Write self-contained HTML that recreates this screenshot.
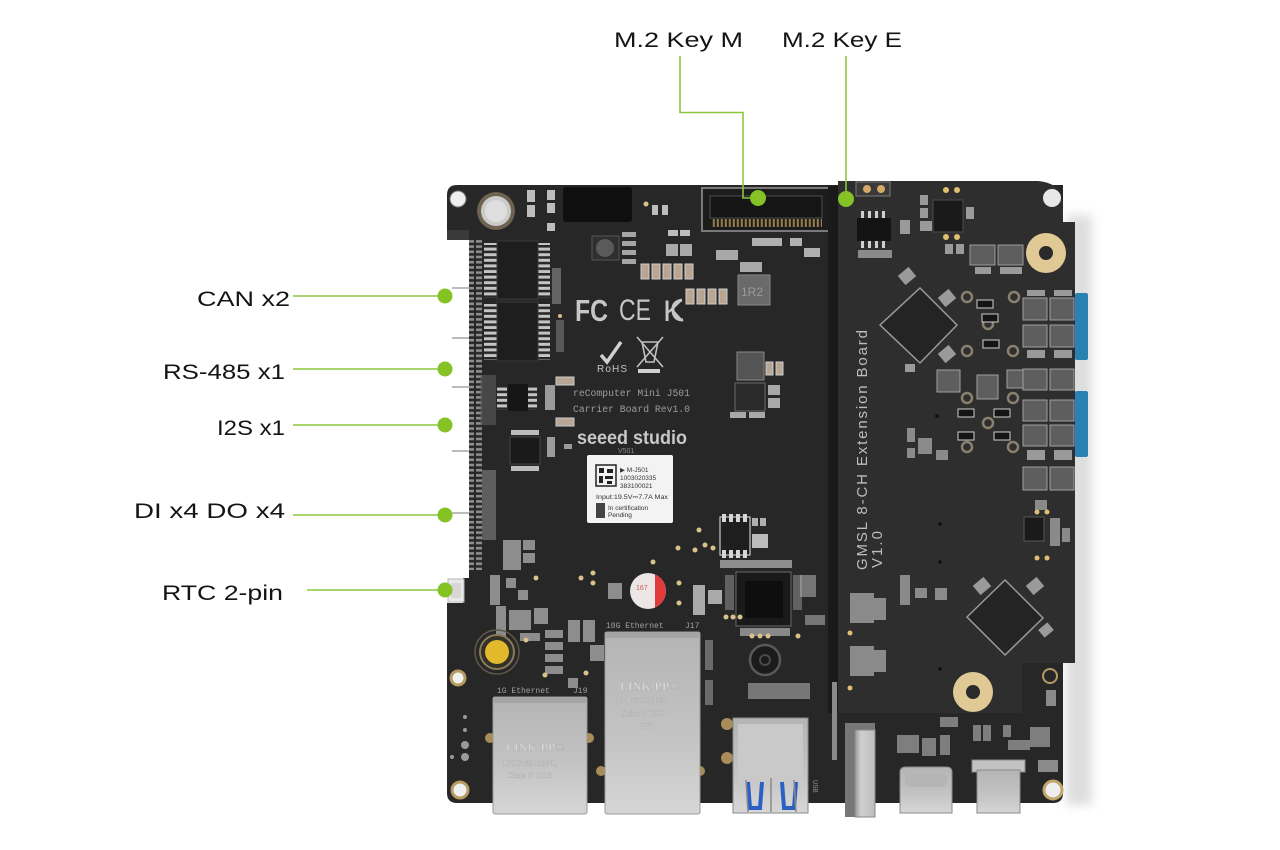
<!DOCTYPE html>
<html><head><meta charset="utf-8">
<style>
html,body{margin:0;padding:0;background:#fff;width:1280px;height:850px;overflow:hidden;}
svg{display:block;}
.lbl{font-family:"Liberation Sans",sans-serif;font-size:21.5px;fill:#141414;}
.sm{font-family:"Liberation Mono",monospace;fill:#9c9c9c;}
</style></head><body>
<svg width="1280" height="850" viewBox="0 0 1280 850" xmlns="http://www.w3.org/2000/svg">
<defs>
 <pattern id="hdr" width="14" height="5.2" patternUnits="userSpaceOnUse"><rect x="0" y="0.9" width="12" height="2.6" fill="#8e8e8e"/></pattern>
 <pattern id="pins" width="12" height="5.6" patternUnits="userSpaceOnUse"><rect x="0" y="1.2" width="12" height="3" fill="#c4c4c4"/></pattern>
 <pattern id="vpins" width="4" height="10" patternUnits="userSpaceOnUse"><rect x="0.8" y="0" width="2" height="10" fill="#c9a860"/></pattern>
 <linearGradient id="silver" x1="0" y1="0" x2="0" y2="1"><stop offset="0" stop-color="#b4b4b4"/><stop offset="0.6" stop-color="#c4c4c4"/><stop offset="1" stop-color="#d6d6d6"/></linearGradient>
 <linearGradient id="silverh" x1="0" y1="0" x2="1" y2="0"><stop offset="0" stop-color="#9a9a9a"/><stop offset="0.3" stop-color="#cfcfcf"/><stop offset="1" stop-color="#bdbdbd"/></linearGradient>
 <clipPath id="capclip"><circle cx="648" cy="591" r="18"/></clipPath>
 <filter id="blur" x="-50%" y="-10%" width="200%" height="120%"><feGaussianBlur stdDeviation="5"/></filter>
</defs>

<!-- soft shadow right of board -->
<rect x="1066" y="215" width="26" height="590" fill="#dedede" filter="url(#blur)"/>

<!-- main board -->
<path d="M457,185 H1063 V793 Q1063,803 1053,803 H457 Q447,803 447,793 V603 H463 V578 H469 V240 H447 V195 Q447,185 457,185 Z" fill="#272727"/>
<!-- left header strip -->
<rect x="469" y="240" width="13" height="330" fill="url(#hdr)"/>
<rect x="447" y="230" width="22" height="10" fill="#3a3a3a"/>
<g stroke="#7a7a7a" stroke-width="1">
 <line x1="452" y1="288" x2="469" y2="288"/>
 <line x1="452" y1="338" x2="469" y2="338"/>
 <line x1="452" y1="387" x2="469" y2="387"/>
 <line x1="452" y1="451" x2="469" y2="451"/>
 <line x1="452" y1="513" x2="469" y2="513"/>
</g>
<!-- RTC connector -->
<rect x="448" y="579" width="16" height="23" fill="#e9e9e9" stroke="#b8b8b8"/>
<rect x="451" y="583" width="10" height="15" fill="#d9d6d6"/>

<!-- top-left holes -->
<circle cx="458" cy="199" r="8" fill="#efefef" stroke="#7a7a7a"/>
<circle cx="496" cy="211" r="19" fill="#6e6350"/>
<circle cx="496" cy="211" r="15" fill="#cbcbcb"/>
<circle cx="496" cy="211" r="11" fill="#dedede"/>
<!-- small pads top -->
<g fill="#bdbdbd">
 <rect x="527" y="190" width="8" height="12"/><rect x="527" y="205" width="8" height="12"/>
 <rect x="547" y="190" width="8" height="10"/><rect x="547" y="203" width="8" height="10"/><rect x="547" y="223" width="8" height="8"/>
 <rect x="652" y="205" width="6" height="10"/><rect x="662" y="205" width="6" height="10"/>
 <rect x="668" y="230" width="10" height="6"/><rect x="680" y="230" width="10" height="6"/>
</g>
<rect x="563" y="187" width="69" height="35" rx="3" fill="#0f0f0f"/>
<circle cx="646" cy="204" r="2.5" fill="#d9c38a"/>
<rect x="592" y="236" width="27" height="24" fill="#2f2f2f" stroke="#555"/>
<circle cx="605" cy="248" r="9" fill="#5a5a5a"/>
<g fill="#a5a5a5"><rect x="622" y="232" width="14" height="5"/><rect x="622" y="241" width="14" height="5"/><rect x="622" y="250" width="14" height="5"/><rect x="622" y="259" width="14" height="5"/></g>

<!-- M.2 Key M connector -->
<rect x="702" y="188" width="127" height="43" fill="#1c1c1c" stroke="#7a7a7a" stroke-width="2"/>
<rect x="710" y="196" width="112" height="22" fill="#151515" stroke="#4e4e4e"/>
<rect x="712" y="219" width="110" height="8" fill="url(#vpins)" opacity="0.7"/>
<g fill="#b0b0b0">
 <rect x="752" y="238" width="30" height="8"/><rect x="790" y="238" width="12" height="8"/>
 <rect x="804" y="248" width="16" height="9"/>
</g>
<!-- resistor rows -->
<g fill="#b9a592" stroke="#cfcfcf">
 <rect x="641" y="264" width="8" height="15"/><rect x="652" y="264" width="8" height="15"/><rect x="663" y="264" width="8" height="15"/><rect x="674" y="264" width="8" height="15"/><rect x="685" y="264" width="8" height="15"/>
 <rect x="686" y="289" width="8" height="15"/><rect x="697" y="289" width="8" height="15"/><rect x="708" y="289" width="8" height="15"/><rect x="719" y="289" width="8" height="15"/>
</g>
<g fill="#a8a8a8"><rect x="666" y="244" width="12" height="12"/><rect x="680" y="244" width="12" height="12"/><rect x="716" y="250" width="22" height="10"/><rect x="740" y="262" width="22" height="10"/></g>
<rect x="738" y="275" width="32" height="30" fill="#6a6a6a" stroke="#8a8a8a"/>
<text x="741" y="296" font-family="Liberation Sans,sans-serif" font-size="12" fill="#9a9a9a">1R2</text>

<!-- left ICs -->
<rect x="484" y="243" width="13" height="55" fill="url(#pins)"/>
<rect x="538" y="243" width="12" height="55" fill="url(#pins)"/>
<rect x="497" y="241" width="41" height="58" fill="#1e1e1e" stroke="#3a3a3a"/>
<rect x="484" y="304" width="13" height="56" fill="url(#pins)"/>
<rect x="538" y="304" width="12" height="56" fill="url(#pins)"/>
<rect x="497" y="302" width="41" height="59" fill="#1e1e1e" stroke="#3a3a3a"/>
<rect x="552" y="268" width="9" height="36" fill="#8c8c8c" opacity="0.6"/>
<rect x="556" y="320" width="8" height="32" fill="#7c7c7c" opacity="0.6"/>
<circle cx="560" cy="316" r="2" fill="#d8c080"/>
<rect x="497" y="386" width="10" height="24" fill="url(#pins)"/>
<rect x="528" y="386" width="9" height="24" fill="url(#pins)"/>
<rect x="508" y="384" width="20" height="27" fill="#161616"/>
<rect x="480" y="375" width="16" height="50" fill="#5d5d5d" opacity="0.6"/>
<rect x="510" y="437" width="30" height="27" fill="#1a1a1a" stroke="#444"/>
<rect x="511" y="430" width="28" height="5" fill="#bdbdbd"/><rect x="511" y="466" width="28" height="5" fill="#bdbdbd"/>
<g fill="#b7a595" stroke="#cccccc"><rect x="556" y="377" width="18" height="8"/><rect x="556" y="418" width="18" height="8"/></g>
<g fill="#9a9a9a"><rect x="545" y="385" width="10" height="25"/><rect x="547" y="437" width="8" height="20"/><rect x="564" y="444" width="8" height="5"/></g>
<!-- lower-left components -->
<g fill="#8d8d8d">
 <rect x="482" y="470" width="14" height="70" opacity="0.55"/>
 <rect x="503" y="540" width="18" height="30"/><rect x="523" y="540" width="12" height="10"/><rect x="523" y="553" width="12" height="10"/>
 <rect x="490" y="575" width="10" height="30"/><rect x="506" y="578" width="10" height="10"/><rect x="518" y="590" width="10" height="10"/>
 <rect x="496" y="606" width="10" height="30"/><rect x="509" y="610" width="22" height="20"/><rect x="534" y="608" width="14" height="16"/>
 <rect x="545" y="630" width="18" height="8"/><rect x="545" y="642" width="18" height="8"/><rect x="545" y="654" width="18" height="8"/><rect x="545" y="666" width="18" height="8"/>
 <rect x="520" y="633" width="20" height="8"/>
 <rect x="568" y="620" width="12" height="22"/><rect x="583" y="620" width="12" height="22"/>
 <rect x="590" y="645" width="14" height="16"/><rect x="568" y="678" width="10" height="10"/>
</g>
<g fill="#d9c38a"><circle cx="536" cy="578" r="2.5"/><circle cx="526" cy="640" r="2.5"/><circle cx="545" cy="675" r="2.5"/><circle cx="586" cy="673" r="2.5"/><circle cx="581" cy="578" r="2.5"/><circle cx="593" cy="583" r="2.5"/><circle cx="593" cy="573" r="2.5"/><circle cx="653" cy="562" r="2.5"/><circle cx="679" cy="583" r="2.5"/><circle cx="679" cy="603" r="2.5"/><circle cx="678" cy="548" r="2.5"/><circle cx="695" cy="550" r="2.5"/><circle cx="705" cy="545" r="2.5"/><circle cx="699" cy="530" r="2.5"/><circle cx="713" cy="548" r="2.5"/></g>

<!-- yellow button -->
<circle cx="497" cy="652" r="22" fill="none" stroke="#5e5648" stroke-width="1.5"/>
<circle cx="497" cy="652" r="17" fill="#34302a" stroke="#8a7a5a" stroke-width="2"/>
<circle cx="497" cy="652" r="12" fill="#e2b92a"/>
<!-- bottom-left holes -->
<circle cx="458" cy="678" r="7" fill="#f0f0f0" stroke="#b59a62" stroke-width="3"/>
<circle cx="460" cy="790" r="8" fill="#f0f0f0" stroke="#b59a62" stroke-width="3"/>
<g fill="#9a9a9a"><circle cx="465" cy="717" r="2"/><circle cx="465" cy="730" r="2"/><circle cx="465" cy="745" r="4"/><circle cx="465" cy="757" r="4"/><circle cx="452" cy="757" r="2"/></g>

<!-- cert marks -->
<text x="575" y="321" font-family="Liberation Sans,sans-serif" font-size="31" font-weight="bold" fill="#c6c6c6" textLength="33" lengthAdjust="spacingAndGlyphs">FC</text>
<text x="619" y="320" font-family="Liberation Sans,sans-serif" font-size="30" fill="#c6c6c6" textLength="32" lengthAdjust="spacingAndGlyphs">CE</text>
<text x="663" y="321" font-family="Liberation Sans,sans-serif" font-size="30" fill="#c6c6c6" textLength="21" lengthAdjust="spacingAndGlyphs">K</text>
<path d="M682,300 Q672,302 673,311 Q674,320 683,320" fill="none" stroke="#c6c6c6" stroke-width="3"/>
<path d="M601,355 L607,362 L621,342" fill="none" stroke="#d0d0d0" stroke-width="3.5"/>
<text x="597" y="372" font-family="Liberation Sans,sans-serif" font-size="10" fill="#c6c6c6" textLength="30">RoHS</text>
<g stroke="#c0c0c0" stroke-width="1.6" fill="none"><path d="M642,342 L646,362 L654,362 L658,342 Z"/><line x1="637" y1="337" x2="663" y2="367"/><line x1="663" y1="337" x2="637" y2="367"/></g>
<rect x="638" y="369" width="22" height="4" fill="#d0d0d0"/>
<text x="573" y="396" class="sm" font-size="10" textLength="117" lengthAdjust="spacingAndGlyphs">reComputer Mini J501</text>
<text x="573" y="412" class="sm" font-size="10" textLength="117" lengthAdjust="spacingAndGlyphs">Carrier Board Rev1.0</text>
<text x="577" y="444" font-family="Liberation Sans,sans-serif" font-size="19" font-weight="bold" fill="#c8c8c8" textLength="110" lengthAdjust="spacingAndGlyphs">seeed studio</text>
<text x="618" y="453" font-family="Liberation Sans,sans-serif" font-size="7" fill="#8a8a8a">V501</text>

<!-- sticker -->
<rect x="587" y="455" width="86" height="68" rx="2" fill="#f3f3f3"/>
<rect x="596" y="465" width="20" height="21" fill="#f3f3f3" stroke="#222" stroke-width="1.5"/>
<g fill="#222"><rect x="599" y="468" width="5" height="5"/><rect x="607" y="469" width="6" height="4"/><rect x="599" y="476" width="4" height="7"/><rect x="605" y="476" width="8" height="3"/><rect x="607" y="481" width="5" height="3"/></g>
<g font-family="Liberation Sans,sans-serif" font-size="6.5" fill="#333">
 <text x="620" y="472">▶ M-J501</text><text x="620" y="480">1003020335</text><text x="620" y="488">383100021</text>
 <text x="596" y="499" textLength="72" lengthAdjust="spacingAndGlyphs">Input:19.5V⎓7.7A Max</text>
 <text x="608" y="510">In certification</text><text x="608" y="517">Pending</text>
</g>
<rect x="596" y="503" width="9" height="15" fill="#444"/>

<!-- mid components -->
<rect x="737" y="352" width="27" height="28" fill="#545454" stroke="#888"/>
<g fill="#b8a696" stroke="#cfcfcf"><rect x="766" y="362" width="7" height="13"/><rect x="776" y="362" width="7" height="13"/></g>
<rect x="735" y="383" width="30" height="28" fill="#2a2a2a" stroke="#6a6a6a"/>
<g fill="#a8a8a8"><rect x="768" y="385" width="12" height="10"/><rect x="768" y="398" width="12" height="10"/><rect x="730" y="412" width="16" height="6"/><rect x="749" y="412" width="16" height="6"/></g>
<rect x="720" y="517" width="30" height="38" fill="#1e1e1e" stroke="#c8c8c8" stroke-width="1.2"/>
<g fill="#d6d6d6"><rect x="722" y="514" width="4" height="8"/><rect x="729" y="514" width="4" height="8"/><rect x="736" y="514" width="4" height="8"/><rect x="743" y="514" width="4" height="8"/><rect x="722" y="550" width="4" height="8"/><rect x="729" y="550" width="4" height="8"/><rect x="736" y="550" width="4" height="8"/><rect x="743" y="550" width="4" height="8"/></g>
<rect x="752" y="534" width="16" height="14" fill="#bcbcbc"/>
<g fill="#b0b0b0"><rect x="752" y="518" width="6" height="8"/><rect x="760" y="518" width="6" height="8"/></g>
<rect x="720" y="560" width="72" height="8" fill="#8e8e8e"/>
<rect x="736" y="572" width="55" height="54" fill="#1a1a1a" stroke="#6a6a6a"/>
<rect x="745" y="581" width="38" height="37" fill="#0e0e0e"/>
<rect x="725" y="575" width="9" height="35" fill="#7a7a7a" opacity="0.7"/>
<rect x="793" y="575" width="9" height="35" fill="#7a7a7a" opacity="0.7"/>
<rect x="740" y="628" width="50" height="8" fill="#888"/>
<g fill="#aaa"><rect x="693" y="585" width="12" height="30"/><rect x="708" y="590" width="14" height="14"/><rect x="800" y="575" width="16" height="22" opacity="0.6"/><rect x="805" y="615" width="20" height="10" opacity="0.6"/></g>
<g fill="#d9c38a"><circle cx="726" cy="617" r="2.5"/><circle cx="733" cy="617" r="2.5"/><circle cx="740" cy="617" r="2.5"/><circle cx="752" cy="636" r="2.5"/><circle cx="760" cy="636" r="2.5"/><circle cx="768" cy="636" r="2.5"/><circle cx="798" cy="636" r="2.5"/></g>
<circle cx="765" cy="660" r="15" fill="#1b1b1b" stroke="#595959" stroke-width="2.5"/>
<circle cx="765" cy="660" r="5" fill="none" stroke="#4a4a4a" stroke-width="2"/>
<rect x="748" y="683" width="62" height="16" fill="#8c8c8c" opacity="0.8"/>
<g fill="#6a6a6a"><rect x="705" y="640" width="8" height="30"/><rect x="705" y="680" width="8" height="25"/></g>

<!-- capacitor -->
<rect x="608" y="583" width="14" height="16" fill="#8d8d8d"/>
<circle cx="648" cy="591" r="18" fill="#ece6e6"/>
<rect x="655" y="570" width="20" height="42" fill="#e03a3a" clip-path="url(#capclip)"/>
<text x="636" y="590" font-family="Liberation Sans,sans-serif" font-size="7" fill="#c55">167</text>

<!-- Ethernet labels -->
<text x="497" y="693" font-family="Liberation Mono,monospace" font-size="8" fill="#a0a0a0">1G Ethernet</text>
<text x="573" y="693" font-family="Liberation Mono,monospace" font-size="8" fill="#a0a0a0">J19</text>
<text x="606" y="628" font-family="Liberation Mono,monospace" font-size="8" fill="#a0a0a0">10G Ethernet</text>
<text x="685" y="628" font-family="Liberation Mono,monospace" font-size="8" fill="#a0a0a0">J17</text>
<g fill="#a88c5a"><circle cx="490" cy="738" r="5"/><circle cx="589" cy="738" r="5"/><circle cx="601" cy="771" r="5"/><circle cx="700" cy="771" r="5"/><circle cx="727" cy="724" r="6"/><circle cx="727" cy="758" r="6"/></g>

<!-- 1G Ethernet -->
<rect x="493" y="697" width="94" height="117" rx="2" fill="url(#silver)" stroke="#9a9a9a"/>
<rect x="493" y="697" width="94" height="6" fill="#a5a5a5"/>
<g font-family="Liberation Serif,serif" fill="#d8d8d8" stroke="#aaa" stroke-width="0.3">
 <text x="506" y="751" font-size="12" font-weight="bold">LINK-PP®</text>
 <text x="503" y="766" font-size="8">LPJG16315BNL</text>
 <text x="507" y="778" font-size="8">China  K 2118</text>
</g>
<!-- 10G Ethernet -->
<rect x="605" y="632" width="95" height="182" rx="2" fill="url(#silver)" stroke="#9a9a9a"/>
<rect x="605" y="632" width="95" height="6" fill="#a5a5a5"/>
<g font-family="Liberation Serif,serif" fill="#dadada" stroke="#aaa" stroke-width="0.3">
 <text x="620" y="690" font-size="12" font-weight="bold">LINK-PP®</text>
 <text x="616" y="703" font-size="8">LPJK6002DNL</text>
 <text x="621" y="716" font-size="8">China  K 2302</text>
 <text x="640" y="729" font-size="8">PV2</text>
</g>

<!-- USB-A -->
<rect x="733" y="718" width="75" height="95" fill="url(#silver)" stroke="#8a8a8a"/>
<rect x="738" y="724" width="65" height="60" fill="#c9c9c9"/>
<g fill="none" stroke="#2a5fc4" stroke-width="4"><path d="M748,782 L750,808 L760,808 L762,782"/><path d="M782,782 L784,808 L794,808 L796,782"/></g>
<g stroke="#8a8a8a" stroke-width="1.5"><line x1="746" y1="780" x2="748" y2="812"/><line x1="794" y1="780" x2="796" y2="812"/><line x1="771" y1="778" x2="771" y2="812"/></g>
<text x="813" y="780" font-family="Liberation Mono,monospace" font-size="7" fill="#888" transform="rotate(90 813 780)">USB</text>

<!-- extension board -->
<rect x="828" y="186" width="11" height="527" fill="#1a1a1a"/>
<path d="M838,181 H1038 Q1063,183 1063,206 V222 H1075 V663 H1022 V713 H838 Z" fill="#2e2e2e"/>
<rect x="1075" y="293" width="13" height="67" rx="2" fill="#2a82b2"/>
<rect x="1075" y="391" width="13" height="66" rx="2" fill="#2a82b2"/>
<circle cx="1052" cy="198" r="9" fill="#e8e8e8"/>
<!-- ext top components -->
<rect x="856" y="182" width="34" height="14" fill="#3a3a3a" stroke="#7a7a7a"/>
<circle cx="867" cy="189" r="4" fill="#d4a866"/><circle cx="881" cy="189" r="4" fill="#d4a866"/>
<rect x="857" y="218" width="34" height="23" fill="#141414"/>
<g fill="#cfcfcf"><rect x="861" y="211" width="3" height="7"/><rect x="868" y="211" width="3" height="7"/><rect x="875" y="211" width="3" height="7"/><rect x="882" y="211" width="3" height="7"/><rect x="861" y="241" width="3" height="7"/><rect x="868" y="241" width="3" height="7"/><rect x="875" y="241" width="3" height="7"/><rect x="882" y="241" width="3" height="7"/></g>
<rect x="858" y="250" width="34" height="8" fill="#8a8a8a"/>
<rect x="933" y="200" width="30" height="32" fill="#1a1a1a" stroke="#4a4a4a"/>
<g fill="#e0c070"><circle cx="946" cy="190" r="3"/><circle cx="957" cy="190" r="3"/><circle cx="946" cy="237" r="3"/><circle cx="957" cy="237" r="3"/></g>
<g fill="#9a9a9a"><rect x="920" y="195" width="8" height="10"/><rect x="920" y="208" width="8" height="10"/><rect x="920" y="221" width="12" height="10"/><rect x="900" y="220" width="10" height="14"/><rect x="966" y="207" width="8" height="12"/><rect x="945" y="244" width="8" height="10"/><rect x="956" y="244" width="8" height="10"/></g>
<rect x="970" y="245" width="25" height="20" fill="#5e5e5e" stroke="#9a9a9a"/>
<rect x="998" y="245" width="25" height="20" fill="#5e5e5e" stroke="#9a9a9a"/>
<rect x="975" y="267" width="16" height="7" fill="#9a9a9a"/><rect x="1000" y="267" width="22" height="7" fill="#9a9a9a"/>
<circle cx="1046" cy="253" r="20" fill="#e1c995"/>
<circle cx="1046" cy="253" r="7" fill="#2a2a2a"/>
<!-- diamonds -->
<polygon points="880,325 920,288 957,325 920,363" fill="#242424" stroke="#9a9a9a" stroke-width="1.5"/>
<polygon points="967,617 1005,580 1043,618 1005,655" fill="#242424" stroke="#9a9a9a" stroke-width="1.5"/>
<g fill="#9a9a9a"><rect x="900" y="270" width="14" height="12" transform="rotate(-40 907 276)"/><rect x="940" y="292" width="14" height="12" transform="rotate(-40 947 298)"/><rect x="940" y="348" width="14" height="12" transform="rotate(-40 947 354)"/><rect x="905" y="364" width="10" height="8"/>
 <rect x="975" y="580" width="14" height="12" transform="rotate(-40 982 586)"/><rect x="1028" y="580" width="14" height="12" transform="rotate(-40 1035 586)"/><rect x="1040" y="625" width="12" height="10" transform="rotate(-40 1046 630)"/></g>
<!-- right side inductors -->
<g fill="#5e5e5e" stroke="#a0a0a0">
 <rect x="1023" y="298" width="24" height="22"/><rect x="1050" y="298" width="24" height="22"/>
 <rect x="1023" y="325" width="24" height="22"/><rect x="1050" y="325" width="24" height="22"/>
 <rect x="1023" y="369" width="24" height="21"/><rect x="1050" y="369" width="24" height="21"/>
 <rect x="1023" y="400" width="24" height="21"/><rect x="1050" y="400" width="24" height="21"/>
 <rect x="1023" y="425" width="24" height="21"/><rect x="1050" y="425" width="24" height="21"/>
 <rect x="1023" y="467" width="24" height="23"/><rect x="1050" y="467" width="24" height="23"/>
 <rect x="937" y="370" width="23" height="22"/><rect x="977" y="375" width="21" height="24"/><rect x="1007" y="370" width="16" height="18"/>
</g>
<g fill="#9a9a9a"><rect x="1027" y="290" width="18" height="6"/><rect x="1054" y="290" width="18" height="6"/><rect x="1027" y="350" width="18" height="8"/><rect x="1054" y="350" width="18" height="8"/><rect x="1027" y="450" width="18" height="10"/><rect x="1054" y="450" width="18" height="10"/></g>
<g fill="none" stroke="#8a806e" stroke-width="2.5">
 <circle cx="967" cy="297" r="5"/><circle cx="1014" cy="297" r="5"/><circle cx="988" cy="324" r="5"/><circle cx="967" cy="351" r="5"/><circle cx="1013" cy="351" r="5"/>
 <circle cx="967" cy="398" r="5"/><circle cx="1013" cy="398" r="5"/><circle cx="988" cy="423" r="5"/><circle cx="967" cy="447" r="5"/><circle cx="1013" cy="447" r="5"/>
</g>
<g fill="#141414" stroke="#cfcfcf"><rect x="977" y="300" width="16" height="8"/><rect x="982" y="314" width="16" height="8"/><rect x="983" y="340" width="16" height="8"/><rect x="958" y="409" width="16" height="8"/><rect x="994" y="409" width="16" height="8"/><rect x="958" y="432" width="16" height="8"/><rect x="994" y="432" width="16" height="8"/></g>
<!-- ext mid/lower small parts -->
<g fill="#8a8a8a">
 <rect x="907" y="428" width="8" height="14"/><rect x="907" y="448" width="8" height="10"/><rect x="918" y="438" width="14" height="16"/><rect x="936" y="450" width="12" height="10"/>
 <rect x="1035" y="500" width="12" height="10"/><rect x="1025" y="518" width="8" height="10"/><rect x="1050" y="518" width="10" height="28"/><rect x="1062" y="528" width="8" height="14"/>
 <rect x="900" y="575" width="10" height="30"/><rect x="915" y="588" width="12" height="10"/><rect x="935" y="588" width="12" height="12"/>
 <rect x="850" y="593" width="24" height="30"/><rect x="874" y="598" width="12" height="22"/>
 <rect x="850" y="646" width="24" height="30"/><rect x="874" y="650" width="12" height="22"/>
 <rect x="1046" y="690" width="10" height="16"/><rect x="1038" y="760" width="20" height="12"/>
</g>
<g fill="#2d2d2d"><circle cx="967" cy="510" r="3"/><circle cx="983" cy="510" r="3"/><circle cx="967" cy="525" r="3"/><circle cx="983" cy="525" r="3"/><circle cx="967" cy="540" r="3"/><circle cx="983" cy="540" r="3"/><circle cx="967" cy="556" r="3"/><circle cx="983" cy="556" r="3"/></g>
<g fill="#0e0e0e"><circle cx="940" cy="524" r="1.8"/><circle cx="940" cy="562" r="1.8"/><circle cx="940" cy="669" r="1.8"/><circle cx="937" cy="416" r="1.8"/></g>
<rect x="1024" y="517" width="20" height="24" fill="#1a1a1a" stroke="#555"/>
<g fill="#e0c070"><circle cx="1037" cy="512" r="2.5"/><circle cx="1047" cy="512" r="2.5"/><circle cx="1037" cy="558" r="2.5"/><circle cx="1047" cy="558" r="2.5"/><circle cx="850" cy="633" r="2.5"/><circle cx="850" cy="688" r="2.5"/></g>
<circle cx="973" cy="692" r="20" fill="#e1c995"/>
<circle cx="973" cy="692" r="7" fill="#2a2a2a"/>

<!-- ext rotated text -->
<text x="867" y="570" transform="rotate(-90 867 570)" font-family="Liberation Sans,sans-serif" font-size="15" fill="#bdbdbd" textLength="240" lengthAdjust="spacing">GMSL 8-CH Extension Board</text>
<text x="882" y="568" transform="rotate(-90 882 568)" font-family="Liberation Sans,sans-serif" font-size="15" fill="#bdbdbd" textLength="37" lengthAdjust="spacing">V1.0</text>

<!-- lower right main board area -->
<circle cx="1050" cy="676" r="7" fill="none" stroke="#b59a62" stroke-width="2"/>
<circle cx="1053" cy="790" r="9" fill="#eee" stroke="#c2a66a" stroke-width="3"/>
<rect x="832" y="682" width="5" height="78" fill="#8a8a8a"/>
<g fill="#7e7e7e">
 <rect x="897" y="735" width="22" height="18"/><rect x="922" y="738" width="14" height="18"/><rect x="940" y="735" width="10" height="20"/>
 <rect x="973" y="725" width="8" height="16"/><rect x="983" y="725" width="8" height="16"/><rect x="1003" y="725" width="8" height="12"/>
 <rect x="1008" y="740" width="22" height="10"/><rect x="1030" y="727" width="20" height="20"/>
 <rect x="940" y="717" width="18" height="10"/>
</g>
<!-- vertical metal connector -->
<rect x="845" y="723" width="30" height="94" fill="#777"/>
<rect x="855" y="730" width="20" height="87" fill="url(#silverh)" stroke="#888"/>
<!-- USB-C 1 -->
<path d="M900,772 Q900,767 906,767 H946 Q952,767 952,772 V813 H900 Z" fill="url(#silver)" stroke="#8a8a8a"/>
<rect x="905" y="773" width="42" height="14" rx="6" fill="#b5b5b5"/>
<!-- USB-C 2 -->
<rect x="972" y="760" width="53" height="12" fill="#c2c2c2" stroke="#8a8a8a"/>
<rect x="977" y="770" width="43" height="43" fill="url(#silver)" stroke="#8a8a8a"/>

<!-- ===== callouts ===== -->
<g stroke="#8cc63f" stroke-width="1.6" fill="none">
 <line x1="293" y1="296" x2="445" y2="296"/>
 <line x1="293" y1="369" x2="445" y2="369"/>
 <line x1="293" y1="425" x2="445" y2="425"/>
 <line x1="293" y1="515" x2="445" y2="515"/>
 <line x1="307" y1="590" x2="445" y2="590"/>
 <polyline points="680,56 680,112.5 743,112.5 743,198 758,198"/>
 <line x1="846" y1="56" x2="846" y2="199"/>
</g>
<g fill="#84c225">
 <circle cx="445" cy="296" r="7.5"/>
 <circle cx="445" cy="369" r="7.5"/>
 <circle cx="445" cy="425" r="7.5"/>
 <circle cx="445" cy="515" r="7.5"/>
 <circle cx="445" cy="590" r="7.5"/>
 <circle cx="758" cy="198" r="8"/>
 <circle cx="846" cy="199" r="8"/>
</g>
<text class="lbl" x="197" y="306" textLength="93" lengthAdjust="spacingAndGlyphs">CAN x2</text>
<text class="lbl" x="163" y="379" textLength="122" lengthAdjust="spacingAndGlyphs">RS-485 x1</text>
<text class="lbl" x="217" y="435" textLength="68" lengthAdjust="spacingAndGlyphs">I2S x1</text>
<text class="lbl" x="134" y="518" textLength="151" lengthAdjust="spacingAndGlyphs">DI x4 DO x4</text>
<text class="lbl" x="162" y="600" textLength="121" lengthAdjust="spacingAndGlyphs">RTC 2-pin</text>
<text class="lbl" x="614" y="47" textLength="129" lengthAdjust="spacingAndGlyphs">M.2 Key M</text>
<text class="lbl" x="782" y="47" textLength="120" lengthAdjust="spacingAndGlyphs">M.2 Key E</text>
</svg>
</body></html>
